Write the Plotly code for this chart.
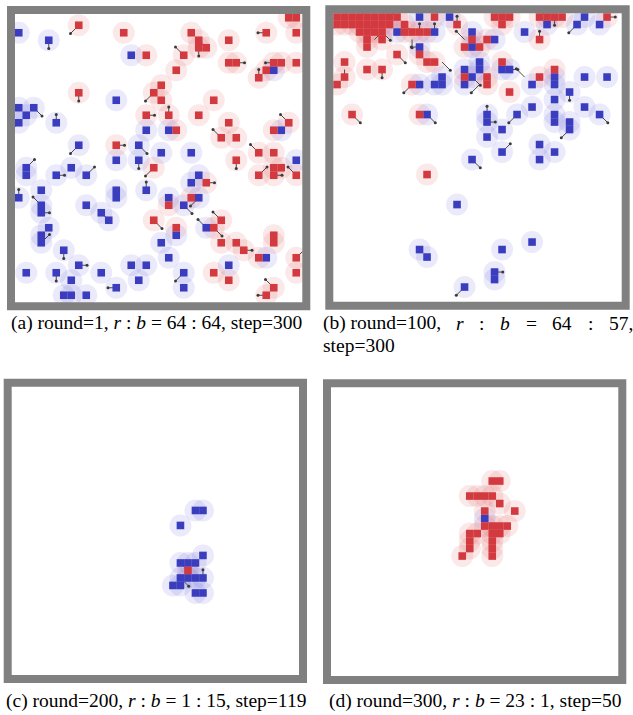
import plotly.graph_objects as go

# ---------------- data: agent grid cells (col, row), row counted from top ----------------
red_a = [(36,0),(37,0),(8,1),(14,2),(23,2),(33,2),(37,2),(24,3),(28,3),(24,4),(25,4),(17,5),(22,5),
         (28,6),(29,6),(34,6),(35,6),(37,6),(33,7),(21,7),(32,8),(19,9),(18,10),(8,10),(19,11),(26,11),
         (17,13),(20,13),(24,13),(28,14),(36,14),(21,15),(34,15),(27,16),(29,16),(13,17),(32,18),(34,18),
         (29,19),(18,20),(34,20),(35,20),(32,21),(34,21),(37,21),(25,22),(20,25),(23,24),(18,27),(26,28),
         (27,27),(21,28),(34,29),(34,30),(27,30),(29,30),(30,31),(32,32),(37,32),(26,34),(37,34),(28,35),
         (34,36),(33,37)]
blue_a = [(0,2),(4,3),(15,5),(34,7),(13,11),(0,12),(2,12),(1,13),(0,14),(5,14),(17,15),(20,15),(35,15),
          (8,17),(16,17),(19,18),(23,18),(13,19),(16,19),(37,19),(1,20),(1,21),(7,20),(5,21),(9,21),(24,21),
          (23,22),(3,23),(0,24),(13,23),(13,24),(17,23),(3,25),(3,26),(9,25),(20,24),(24,24),(22,25),(11,26),
          (12,27),(25,28),(21,29),(4,28),(3,29),(3,30),(19,30),(6,31),(20,32),(33,32),(8,33),(15,33),(17,33),
          (28,33),(1,34),(5,34),(11,34),(22,34),(7,35),(16,35),(13,36),(22,36),(6,37),(7,37),(9,37)]
arrows_a = [(36,0,0,-1),(37,0,0,-1),(8,1,-1,1),(33,2,-1,0),(4,3,0,1),(24,4,0,1),(25,4,-1,-1),(22,5,-1,-1),
            (29,6,1,0),(34,6,-1,0),(32,8,0,-1),(18,10,-1,1),(8,10,0,1),(0,12,-1,-1),(2,12,1,1),(0,14,-1,1),
            (17,13,1,0),(20,13,0,-1),(5,14,0,-1),(36,14,-1,-1),(27,16,-1,-1),(8,17,-1,1),(13,17,1,0),
            (16,17,1,1),(32,18,-1,-1),(16,19,0,1),(29,19,0,1),(1,20,1,-1),(5,21,1,0),(9,21,1,-1),(18,20,-1,1),
            (25,22,1,0),(32,21,1,-1),(34,21,1,0),(37,21,-1,-1),(0,24,0,-1),(17,23,0,-1),(3,25,-1,-1),
            (3,26,1,0),(22,25,1,1),(24,24,-1,1),(11,26,1,1),(18,27,1,1),(27,27,-1,-1),(26,28,1,1),
            (25,28,-1,-1),(3,30,1,-1),(30,31,1,0),(6,31,0,1),(37,32,1,-1),(8,33,1,0),(5,34,0,1),
            (22,34,-1,1),(13,36,-1,0),(34,36,-1,-1),(33,37,-1,0)]

red_b = [(0,0),(1,0),(2,0),(3,0),(4,0),(5,0),(6,0),(7,0),(8,0),(13,0),(21,0),(22,0),(23,0),(27,0),(28,0),
         (29,0),(30,0),(36,0),(0,1),(1,1),(2,1),(3,1),(4,1),(5,1),(6,1),(7,1),(9,1),(16,1),(22,1),
         (3,2),(4,2),(5,2),(6,2),(9,2),(10,2),(11,2),(12,2),(4,3),(6,3),(18,3),(20,3),(27,3),(4,4),(17,4),
         (19,4),(8,5),(11,5),(1,6),(12,6),(13,6),(22,6),(4,7),(6,7),(29,7),(1,8),(17,8),(20,8),(27,8),
         (0,9),(10,9),(20,9),(23,10),(2,13),(11,13),(12,21)]
blue_b = [(11,0),(15,0),(33,0),(28,1),(32,1),(35,1),(8,2),(13,2),(18,2),(25,2),(21,3),(11,4),(18,4),
          (19,6),(17,7),(19,7),(22,7),(23,7),(14,8),(18,8),(29,8),(33,8),(36,8),(11,9),(13,9),(14,9),
          (17,9),(26,9),(29,9),(31,10),(29,11),(26,12),(33,12),(12,13),(20,13),(24,13),(29,13),(35,13),
          (20,14),(29,14),(31,14),(22,15),(31,15),(20,16),(27,17),(22,18),(29,18),(18,19),(27,19),(16,25),
          (26,30),(11,31),(22,31),(12,32),(21,34),(21,35),(17,36)]
arrows_b = [(0,1,-1,1),(3,0,1,-1),(4,1,1,1),(5,3,1,-1),(6,2,1,1),(8,0,-1,-1),(9,1,1,1),(11,2,0,-1),
            (12,2,1,0),(13,2,0,-1),(10,3,0,1),(11,4,-1,0),(8,5,1,1),(14,6,1,1),(1,7,0,1),(6,7,0,1),
            (10,9,-1,1),(16,1,0,-1),(17,3,-1,-1),(18,8,1,1),(19,9,-1,1),(23,7,1,0),(25,8,-1,-1),
            (27,3,0,-1),(28,0,-1,-1),(29,0,0,1),(31,10,0,1),(32,1,-1,1),(36,0,1,0),(2,13,1,1),
            (12,13,1,1),(20,13,0,-1),(20,14,1,0),(24,13,-1,1),(31,15,-1,1),(35,13,1,1),(22,18,1,-1),
            (18,19,1,1),(21,34,1,0),(17,36,-1,1)]

red_c = [(23,24)]
blue_c = [(24,16),(25,16),(22,18),(25,22),(22,23),(23,23),(24,23),(22,25),(23,25),(24,25),(25,25),
          (21,26),(22,26),(24,27),(25,27)]
arrows_c = [(22,23,1,1),(22,25,1,1),(25,25,0,-1)]

red_d = [(21,12),(22,12),(18,14),(19,14),(20,14),(21,14),(22,15),(24,16),(20,16),(20,18),(21,18),
         (22,18),(23,18),(18,19),(19,19),(21,19),(22,19),(18,20),(21,20),(18,21),(21,21),(17,22),(21,22)]
blue_d = [(20,17)]
arrows_d = []

captions = {
    "a": "(a) round=1, <i>r</i> : <i>b</i> = 64 : 64, step=300",
    "c": "(c) round=200, <i>r</i> : <i>b</i> = 1 : 15, step=119",
    "d": "(d) round=300, <i>r</i> : <i>b</i> = 23 : 1, step=50",
}
caption_b_tokens = ["(b) round=100,", "<i>r</i>", ":", "<i>b</i>", "=", "64", ":", "57,"]
caption_b_line2 = "step=300"

# ---------------- layout geometry (pixels) ----------------
W, H = 633, 715
CELL = 7.5
panels = {  # inner box: x0, x1, y0, y1 (pixels from top-left)
    "a": (15.0, 302.3, 14.0, 302.3),
    "b": (333.3, 621.7, 13.3, 301.7),
    "c": (11.7, 299.0, 386.7, 675.0),
    "d": (331.0, 618.3, 387.3, 676.0),
}
data = {
    "a": (red_a, blue_a, arrows_a),
    "b": (red_b, blue_b, arrows_b),
    "c": (red_c, blue_c, arrows_c),
    "d": (red_d, blue_d, arrows_d),
}

RED = "#d23a40"
BLUE = "#3b3dbf"
RED_HALO = "rgba(225,95,95,0.14)"
BLUE_HALO = "rgba(95,95,215,0.13)"

fig = go.Figure()
layout_axes = {}
shapes = []
for i, key in enumerate(["a", "b", "c", "d"]):
    x0, x1, y0, y1 = panels[key]
    red, blue, arrows = data[key]
    sfx = "" if i == 0 else str(i + 1)
    xa, ya = "x" + sfx, "y" + sfx
    layout_axes["xaxis" + sfx] = dict(domain=[x0 / W, x1 / W], range=[0, (x1 - x0) / CELL],
                                      visible=False, fixedrange=True)
    layout_axes["yaxis" + sfx] = dict(domain=[1 - y1 / H, 1 - y0 / H], range=[(y1 - y0) / CELL, 0],
                                      visible=False, fixedrange=True)
    # halos
    for pts, col in ((red, RED_HALO), (blue, BLUE_HALO)):
        if pts:
            fig.add_trace(go.Scatter(x=[p[0] + 0.5 for p in pts], y=[p[1] + 0.5 for p in pts],
                                     mode="markers", xaxis=xa, yaxis=ya, cliponaxis=False,
                                     marker=dict(symbol="circle", size=22, color=col, line=dict(width=0)),
                                     hoverinfo="skip", showlegend=False))
    # arrows
    if arrows:
        ax, ay, hx, hy = [], [], [], []
        for c, r, dx, dy in arrows:
            sx, sy = c + 0.5, r + 0.5
            ex, ey = sx + 1.1 * dx, sy + 1.1 * dy
            ax += [sx, ex, None]
            ay += [sy, ey, None]
            hx.append(ex)
            hy.append(ey)
        fig.add_trace(go.Scatter(x=ax, y=ay, mode="lines", xaxis=xa, yaxis=ya, cliponaxis=False,
                                 line=dict(color="#4a4a4a", width=1), hoverinfo="skip", showlegend=False))
        fig.add_trace(go.Scatter(x=hx, y=hy, mode="markers", xaxis=xa, yaxis=ya, cliponaxis=False,
                                 marker=dict(size=3, color="#3a3a3a"), hoverinfo="skip", showlegend=False))
    # agents
    for pts, col in ((blue, BLUE), (red, RED)):
        if pts:
            fig.add_trace(go.Scatter(x=[p[0] + 0.5 for p in pts], y=[p[1] + 0.5 for p in pts],
                                     mode="markers", xaxis=xa, yaxis=ya, cliponaxis=False,
                                     marker=dict(symbol="square", size=7.6, color=col, line=dict(width=0)),
                                     hoverinfo="skip", showlegend=False))
    # frame
    shapes.append(dict(type="rect", xref="paper", yref="paper", layer="above",
                       x0=(x0 - 4) / W, x1=(x1 + 4) / W, y0=1 - (y1 + 4) / H, y1=1 - (y0 - 4) / H,
                       line=dict(color="#808080", width=8), fillcolor="rgba(0,0,0,0)"))

FONT = dict(family="Liberation Serif, Times New Roman, serif", size=19.5, color="black")
ann = []
def add_text(txt, xpx, ypx, anchor="center"):
    ann.append(dict(text=txt, x=xpx / W, y=1 - ypx / H, xref="paper", yref="paper",
                    xanchor=anchor, yanchor="middle", showarrow=False, font=FONT))

add_text(captions["a"], 156, 323)
add_text(captions["c"], 156, 701)
add_text(captions["d"], 475, 701)
b_pos = [321, 453.7, 477, 498.1, 523.6, 550.3, 585.5, 606.6]
for tok, xp in zip(caption_b_tokens, b_pos):
    add_text(tok, xp, 323, anchor="left")
add_text(caption_b_line2, 321, 346, anchor="left")

fig.update_layout(width=W, height=H, margin=dict(l=0, r=0, t=0, b=0),
                  paper_bgcolor="white", plot_bgcolor="white", hovermode=False,
                  shapes=shapes, annotations=ann, **layout_axes)
fig.write_html("out.html", config={"displayModeBar": False, "staticPlot": True},
               post_script="document.body.style.margin='0';document.body.style.overflow='hidden';")
